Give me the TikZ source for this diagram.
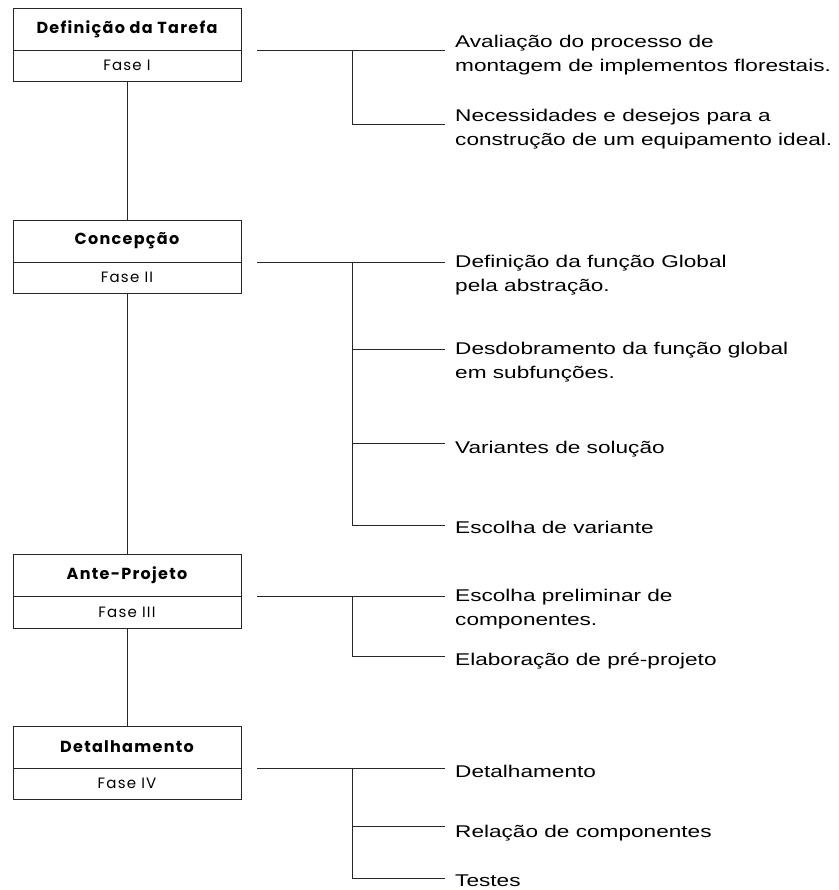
\documentclass[tikz,border=0pt]{standalone}
\usepackage{fontspec}
\setmainfont{Liberation Sans}[FakeStretch=1.33]
\newfontfamily\boxfont{Poppins}[LetterSpace=8]
\usetikzlibrary{positioning}

\begin{document}
\begin{tikzpicture}[
    x=1pt, y=-1pt,
    titulo/.style={rectangle, draw=black!85, line width=0.9pt, minimum width=228pt, minimum height=42pt,
                   inner sep=0pt, outer sep=0pt, font=\boxfont\bfseries\fontsize{16}{18}\selectfont},
    fase/.style={titulo, minimum height=31.5pt, font=\boxfont\fontsize{15}{17}\selectfont},
    item/.style={anchor=base west, align=left, inner sep=0pt, font=\fontsize{17}{24}\selectfont},
    ramo/.style={draw=black!85, line width=0.9pt}
]
    \useasboundingbox (0,0) rectangle (838,890);

    % fases
    \node[titulo] (d1) at (127,29) {Definição da Tarefa};
    \node[fase, below=0pt of d1] (f1) {Fase I};
    \node[titulo] (d2) at (127,241) {Concepção};
    \node[fase, below=0pt of d2] (f2) {Fase II};
    \node[titulo] (d3) at (127,575.5) {Ante-Projeto};
    \node[fase, below=0pt of d3] (f3) {Fase III};
    \node[titulo] (d4) at (127,747) {Detalhamento};
    \node[fase, below=0pt of d4] (f4) {Fase IV};

    \draw[ramo] (f1) -- (d2);
    \draw[ramo] (f2) -- (d3);
    \draw[ramo] (f3) -- (d4);

    % pontas dos ramos
    \coordinate (e11) at (445,50);
    \coordinate (e12) at (445,124);
    \coordinate (e21) at (445,262);
    \coordinate (e22) at (445,349);
    \coordinate (e23) at (445,443);
    \coordinate (e24) at (445,525);
    \coordinate (e31) at (445,596.5);
    \coordinate (e32) at (445,656);
    \coordinate (e41) at (445,768);
    \coordinate (e42) at (445,826);
    \coordinate (e43) at (445,878);

    % textos
    \node[item] (a11) at ([xshift=10pt,yshift=-22pt]e11) {Avaliação do processo de\\montagem de implementos florestais.};
    \node[item] (a12) at ([xshift=10pt,yshift=-22pt]e12) {Necessidades e desejos para a\\construção de um equipamento ideal.};
    \node[item] (a21) at ([xshift=10pt,yshift=-29pt]e21) {Definição da função Global\\pela abstração.};
    \node[item] (a22) at ([xshift=10pt,yshift=-29pt]e22) {Desdobramento da função global\\em subfunções.};
    \node[item] (a23) at ([xshift=10pt,yshift=-10pt]e23) {Variantes de solução};
    \node[item] (a24) at ([xshift=10pt,yshift=-8pt]e24) {Escolha de variante};
    \node[item] (a31) at ([xshift=10pt,yshift=-29pt]e31) {Escolha preliminar de\\componentes.};
    \node[item] (a32) at ([xshift=10pt,yshift=-9pt]e32) {Elaboração de pré-projeto};
    \node[item] (a41) at ([xshift=10pt,yshift=-9pt]e41) {Detalhamento};
    \node[item] (a42) at ([xshift=10pt,yshift=-11pt]e42) {Relação de componentes};
    \node[item] (a43) at ([xshift=10pt,yshift=-8pt]e43) {Testes};

    % ramos
    \coordinate (g1) at (352,50);
    \coordinate (g2) at (352,262);
    \coordinate (g3) at (352,596.5);
    \coordinate (g4) at (352,768);

    \draw[ramo] ([xshift=16pt]d1.south east) -- (e11);
    \draw[ramo] (g1) |- (e12);
    \draw[ramo] ([xshift=16pt]d2.south east) -- (e21);
    \draw[ramo] (g2) |- (e24);
    \draw[ramo] (g2 |- e22) -- (e22);
    \draw[ramo] (g2 |- e23) -- (e23);
    \draw[ramo] ([xshift=16pt]d3.south east) -- (e31);
    \draw[ramo] (g3) |- (e32);
    \draw[ramo] ([xshift=16pt]d4.south east) -- (e41);
    \draw[ramo] (g4) |- (e43);
    \draw[ramo] (g4 |- e42) -- (e42);
\end{tikzpicture}
\end{document}
